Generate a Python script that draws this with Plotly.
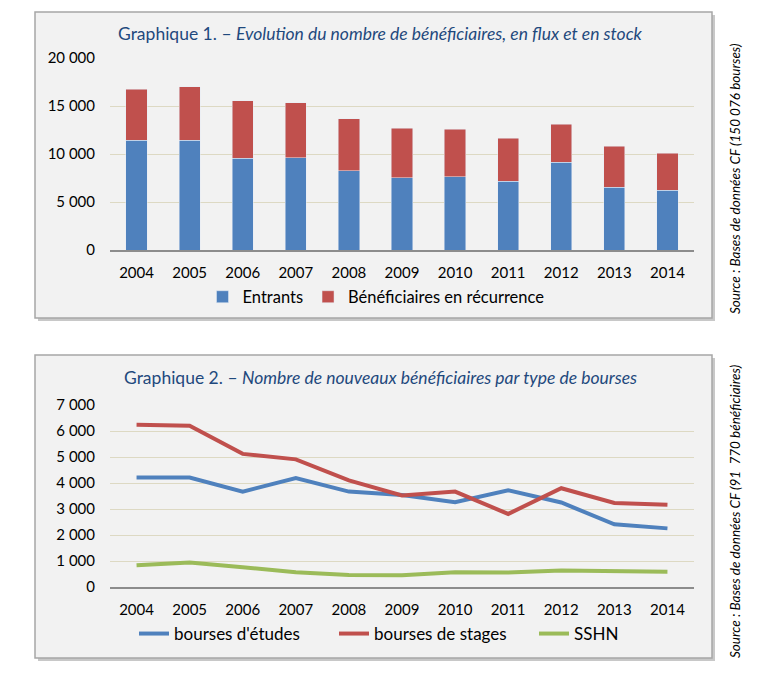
import plotly.graph_objects as go

years = ["2004", "2005", "2006", "2007", "2008", "2009", "2010", "2011", "2012", "2013", "2014"]

# Graphique 1
entrants = [11450, 11450, 9550, 9620, 8240, 7520, 7620, 7140, 9140, 6550, 6240]
recurrence = [5280, 5550, 6000, 5730, 5410, 5170, 4970, 4520, 3960, 4240, 3830]

# Graphique 2
etudes = [4210, 4210, 3670, 4190, 3670, 3540, 3260, 3720, 3250, 2410, 2255]
stages = [6240, 6200, 5120, 4910, 4100, 3520, 3670, 2810, 3800, 3235, 3160]
sshn = [840, 940, 760, 570, 460, 450, 570, 555, 630, 605, 590]

y1_ticks = [0, 5000, 10000, 15000, 20000]
y1_labels = ["0", "5 000", "10 000", "15 000", "20 000"]
y2_ticks = [0, 1000, 2000, 3000, 4000, 5000, 6000, 7000]
y2_labels = ["0", "1 000", "2 000", "3 000", "4 000", "5 000", "6 000", "7 000"]

W, H = 768, 688
OFF = 8  # browser default body margin
BLUE = "#4F81BD"
RED = "#C0504D"
GREEN = "#9BBB59"
TITLE = "#1F497D"
GRID = "#DDD9C3"
FONT = "Lato, 'Open Sans', sans-serif"


def px(x):
    return (x - OFF) / W


def py(y):
    return 1 - (y - OFF) / H


fig = go.Figure()

fig.add_trace(go.Bar(x=years, y=entrants, name="Entrants", marker_color=BLUE,
                     xaxis="x", yaxis="y", legend="legend"))
fig.add_trace(go.Bar(x=years, y=recurrence, name="Bénéficiaires en récurrence",
                     marker_color=RED, xaxis="x", yaxis="y", legend="legend"))

fig.add_trace(go.Scatter(x=years, y=etudes, name="bourses d'études", mode="lines",
                         line=dict(color=BLUE, width=4), xaxis="x2", yaxis="y2", legend="legend2"))
fig.add_trace(go.Scatter(x=years, y=stages, name="bourses de stages", mode="lines",
                         line=dict(color=RED, width=4), xaxis="x2", yaxis="y2", legend="legend2"))
fig.add_trace(go.Scatter(x=years, y=sshn, name="SSHN", mode="lines",
                         line=dict(color=GREEN, width=4), xaxis="x2", yaxis="y2", legend="legend2"))

shapes = []
for (x0, y0, x1, y1) in [(35, 12, 712, 318), (35, 355, 712, 658)]:
    # shadow
    shapes.append(dict(type="rect", xref="paper", yref="paper", layer="below",
                       x0=px(x0 + 3), x1=px(x1 + 3), y0=py(y1 + 3), y1=py(y0 + 3),
                       fillcolor="#C8C8C8", line=dict(width=0)))
    shapes.append(dict(type="rect", xref="paper", yref="paper", layer="below",
                       x0=px(x0), x1=px(x1), y0=py(y1), y1=py(y0),
                       fillcolor="#F2F2F2", line=dict(color="#A6A6A6", width=1.5)))

axis_common = dict(tickfont=dict(family=FONT, size=15, color="#000"), fixedrange=True,
                   automargin=False)

fig.update_layout(
    width=W, height=H,
    margin=dict(l=0, r=0, t=0, b=0, pad=0, autoexpand=False),
    paper_bgcolor="white",
    plot_bgcolor="rgba(0,0,0,0)",
    barmode="stack",
    bargap=0.6,
    font=dict(family=FONT),
    shapes=shapes,
    xaxis=dict(domain=[px(110), px(694)], anchor="y", range=[-0.5, 10.5], showline=True,
               linecolor="#8C8C8C", linewidth=1.5, showgrid=False, ticks="",
               ticklabelstandoff=8, **axis_common),
    yaxis=dict(domain=[py(250), py(58)], anchor="x", range=[0, 20000], tickvals=y1_ticks,
               ticktext=y1_labels, gridcolor=GRID, gridwidth=1, zeroline=False,
               ticks="", ticklabelstandoff=14, **axis_common),
    xaxis2=dict(domain=[px(110), px(694)], anchor="y2", range=[-0.5, 10.5], showline=True,
                linecolor="#8C8C8C", linewidth=1.5, showgrid=False, ticks="",
                ticklabelstandoff=8, **axis_common),
    yaxis2=dict(domain=[py(587), py(405)], anchor="x2", range=[0, 7000], tickvals=y2_ticks,
                ticktext=y2_labels, gridcolor=GRID, gridwidth=1, zeroline=False,
                ticks="", ticklabelstandoff=14, **axis_common),
    legend=dict(orientation="h", x=px(376), y=py(297), xanchor="center", yanchor="middle",
                bgcolor="rgba(0,0,0,0)", font=dict(family=FONT, size=16.5, color="#000"),
                traceorder="normal", itemwidth=30),
    legend2=dict(orientation="h", x=px(434), y=py(634), xanchor="center", yanchor="middle",
                 bgcolor="rgba(0,0,0,0)", font=dict(family=FONT, size=17, color="#000"),
                 traceorder="normal", entrywidth=155, entrywidthmode="pixels"),
    annotations=[
        dict(xref="paper", yref="paper", x=px(380), y=py(34), xanchor="center", yanchor="middle",
             showarrow=False, font=dict(family=FONT, size=17.5, color=TITLE),
             text="Graphique 1. – <i>Evolution du nombre de bénéficiaires, en flux et en stock</i>"),
        dict(xref="paper", yref="paper", x=px(380), y=py(378), xanchor="center", yanchor="middle",
             showarrow=False, font=dict(family=FONT, size=17.5, color=TITLE),
             text="Graphique 2. – <i>Nombre de nouveaux bénéficiaires par type de bourses</i>"),
        dict(xref="paper", yref="paper", x=px(735), y=py(179), xanchor="center", yanchor="middle",
             showarrow=False, textangle=-90, font=dict(family=FONT, size=13.5, color="#000"),
             text="<i>Source : Bases de données CF (150 076 bourses)</i>"),
        dict(xref="paper", yref="paper", x=px(735), y=py(512), xanchor="center", yanchor="middle",
             showarrow=False, textangle=-90, font=dict(family=FONT, size=13.5, color="#000"),
             text="<i>Source : Bases de données CF (91  770 bénéficiaires)</i>"),
    ],
)

fig.write_html("out.html")
